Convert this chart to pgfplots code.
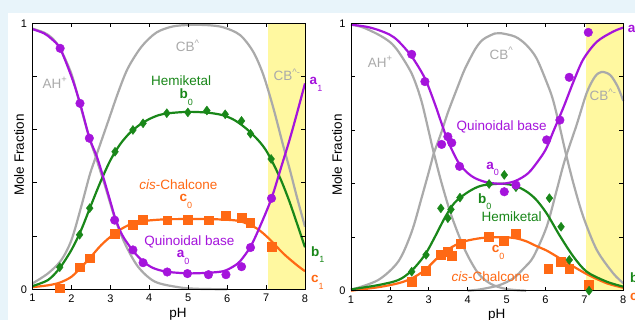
\documentclass[border=0pt]{standalone}
\usepackage{pgfplots}
\pgfplotsset{compat=1.18}
\usepackage{fontspec}
\setmainfont{Liberation Sans}
\definecolor{qpurple}{RGB}{165,20,220}
\definecolor{hgreen}{RGB}{25,135,25}
\definecolor{corange}{RGB}{255,105,20}
\definecolor{cgray}{RGB}{170,170,170}
\definecolor{hlyellow}{RGB}{255,248,160}
\definecolor{bgblue}{RGB}{232,244,250}
\newcommand{\lab}[2]{\textbf{#1}\raisebox{-0.5em}{\fontsize{9}{9}\selectfont #2}}
\newcommand{\lfont}{\fontsize{13.5}{15}\selectfont}
\pgfplotsset{
  panel/.style={scale only axis, xmin=1, xmax=8, ymin=0, ymax=1,
    xtick={1,2,3,4,5,6,7,8}, ytick={0,0.2,0.4,0.6,0.8,1}, yticklabels={0,,,,,1},
    tick align=inside, major tick length=4pt,
    axis line style={line width=0.8pt},
    every tick/.style={black, line width=0.8pt},
    tick label style={font=\fontsize{11}{13}\selectfont},
    /pgf/number format/assume math mode=true,
    yticklabel style={xshift=-2pt},
    xticklabel style={yshift=-1.5pt},
    clip=false, axis on top},
  gc/.style={cgray, line width=2.2pt, smooth, mark=none},
  pc/.style={qpurple, line width=2.2pt, smooth, mark=none},
  hc/.style={hgreen, line width=2.2pt, smooth, mark=none},
  oc/.style={corange, line width=2.2pt, smooth, mark=none},
  pm/.style={only marks, mark=*, mark size=4.3pt, qpurple},
  hm/.style={only marks, mark=diamond*, mark size=4.5pt, hgreen},
  om/.style={only marks, mark=square*, mark size=4.4pt, corange},
}
\begin{document}
\begin{tikzpicture}[x=1pt,y=1pt]
\useasboundingbox (0,0) rectangle (635,320);
\clip (0,0) rectangle (635,320);
\fill[bgblue] (0,0) rectangle (635,320);
\fill[white] (8,0) rectangle (635,307);

% ---------------- left panel ----------------
\begin{axis}[panel, at={(32.5pt,30.7pt)}, anchor=south west, width=272.5pt, height=266pt]
\fill[hlyellow] (axis cs:7.05,0) rectangle (axis cs:8,1);
% AH+
\addplot[gc] coordinates {(1,0.98)(1.3,0.965)(1.5,0.945)(1.71,0.905)(2.0,0.81)(2.21,0.70)(2.47,0.565)(2.62,0.50)(2.85,0.395)(3.11,0.27)(3.37,0.173)(3.71,0.085)(4.14,0.029)(4.74,0.008)(5.2,0.002)(6.0,0.0)};
% CB^
\addplot[gc] coordinates {(1,0.022)(1.4,0.06)(1.74,0.11)(2.0,0.185)(2.25,0.31)(2.47,0.43)(2.62,0.495)(2.94,0.63)(3.2,0.74)(3.45,0.831)(3.8,0.912)(4.18,0.965)(4.6,0.988)(5.05,0.994)(5.5,0.993)(5.9,0.985)(6.33,0.956)(6.67,0.893)(6.93,0.806)(7.19,0.68)(7.44,0.54)(7.61,0.45)(7.79,0.348)(8.0,0.235)};
% orange c
\addplot[oc] coordinates {(1,0.008)(1.4,0.015)(1.7,0.025)(2.0,0.047)(2.25,0.083)(2.47,0.117)(2.77,0.167)(3.11,0.21)(3.45,0.24)(3.84,0.256)(4.4,0.263)(5.0,0.264)(5.5,0.264)(5.9,0.262)(6.33,0.256)(6.76,0.229)(7.1,0.187)(7.44,0.135)(7.79,0.091)(8.0,0.068)};
% green b
\addplot[hc] coordinates {(1,0.012)(1.4,0.035)(1.7,0.08)(2.0,0.148)(2.25,0.223)(2.5,0.315)(2.75,0.405)(3.0,0.485)(3.25,0.545)(3.5,0.588)(3.75,0.618)(4.0,0.64)(4.25,0.655)(4.5,0.662)(5.0,0.667)(5.5,0.664)(5.9,0.654)(6.2,0.635)(6.5,0.603)(6.8,0.56)(7.0,0.522)(7.2,0.468)(7.4,0.405)(7.6,0.33)(7.8,0.245)(8.0,0.158)};
% purple a
\addplot[pc] coordinates {(1,0.978)(1.3,0.962)(1.5,0.94)(1.71,0.905)(2.0,0.80)(2.22,0.70)(2.46,0.57)(2.65,0.50)(2.8,0.43)(3.0,0.33)(3.12,0.27)(3.3,0.205)(3.58,0.145)(3.84,0.105)(4.1,0.08)(4.45,0.066)(5.0,0.06)(5.5,0.062)(5.9,0.068)(6.15,0.085)(6.33,0.105)(6.6,0.16)(6.84,0.235)(7.14,0.342)(7.4,0.465)(7.6,0.56)(7.8,0.665)(8.0,0.774)};
\addplot[om] coordinates {(1.7,0.004)(2.21,0.083)(2.47,0.117)(3.11,0.21)(3.58,0.242)(3.84,0.263)(4.46,0.26)(4.98,0.263)(5.52,0.26)(5.97,0.276)(6.37,0.269)(6.59,0.25)(7.14,0.16)};
\addplot[hm] coordinates {(1.7,0.083)(2.21,0.205)(2.47,0.305)(3.12,0.517)(3.58,0.599)(3.84,0.624)(4.45,0.662)(4.99,0.665)(5.48,0.672)(5.95,0.658)(6.37,0.633)(6.6,0.585)(7.13,0.49)};
\addplot[pm] coordinates {(1.71,0.906)(2.22,0.699)(2.46,0.568)(3.11,0.26)(3.58,0.148)(3.84,0.10)(4.46,0.065)(4.98,0.059)(5.52,0.055)(5.97,0.055)(6.37,0.085)(6.6,0.157)(7.14,0.342)};
% labels
\node[cgray, font=\lfont] at (axis cs:1.58,0.776) {AH\textsuperscript{+}};
\node[cgray, font=\lfont] at (axis cs:4.99,0.915) {CB\textsuperscript{\textasciicircum}};
\node[cgray, font=\lfont] at (axis cs:7.54,0.805) {CB\textsuperscript{\textasciicircum-}};
\node[qpurple, font=\lfont, anchor=west, inner sep=0pt] at (axis cs:8.115,0.77) {\lab{a}{1}};
\node[hgreen, font=\lfont] at (axis cs:4.82,0.784) {Hemiketal};
\node[hgreen, font=\lfont] at (axis cs:4.95,0.721) {\lab{b}{0}};
\node[corange, font=\lfont] at (axis cs:4.745,0.393) {\textit{cis}-Chalcone};
\node[corange, font=\lfont] at (axis cs:4.94,0.329) {\lab{c}{0}};
\node[qpurple, font=\lfont] at (axis cs:5.03,0.18) {Quinoidal base};
\node[qpurple, font=\lfont] at (axis cs:4.87,0.121) {\lab{a}{0}};
\node[hgreen, font=\lfont, anchor=west, inner sep=0pt] at (axis cs:8.15,0.13) {\lab{b}{1}};
\node[corange, font=\lfont, anchor=west, inner sep=0pt] at (axis cs:8.15,0.025) {\lab{c}{1}};
\end{axis}

% ---------------- right panel ----------------
\begin{axis}[panel, at={(351pt,29.3pt)}, anchor=south west, width=272.3pt, height=267.4pt]
\fill[hlyellow] (axis cs:7.05,0) rectangle (axis cs:8,1);
% AH+
\addplot[gc] coordinates {(1,0.995)(1.3,0.985)(1.7,0.958)(2.0,0.93)(2.22,0.894)(2.56,0.812)(2.8,0.715)(3.0,0.595)(3.12,0.52)(3.33,0.402)(3.59,0.277)(3.93,0.152)(4.27,0.065)(4.6,0.025)(5.0,0.006)(5.5,0.0)};
% CB^
\addplot[gc] coordinates {(1,0.003)(1.7,0.04)(2.22,0.11)(2.56,0.22)(2.82,0.35)(3.03,0.46)(3.12,0.51)(3.22,0.55)(3.33,0.595)(3.5,0.67)(3.75,0.765)(3.93,0.83)(4.2,0.905)(4.4,0.94)(4.7,0.962)(4.85,0.963)(5.22,0.95)(5.5,0.92)(5.77,0.869)(6.07,0.765)(6.2,0.71)(6.37,0.61)(6.52,0.515)(6.72,0.40)(6.97,0.277)(7.32,0.152)(7.74,0.065)(8.0,0.028)};
% CB^-
\addplot[gc] coordinates {(4.0,0.0)(4.32,0.005)(4.8,0.02)(5.17,0.046)(5.45,0.085)(5.69,0.127)(6.03,0.239)(6.29,0.377)(6.5,0.49)(6.8,0.62)(7.06,0.74)(7.27,0.80)(7.44,0.818)(7.66,0.807)(7.85,0.765)(8.0,0.71)};
% orange c
\addplot[oc] coordinates {(1,0.0)(1.7,0.013)(2.22,0.028)(2.56,0.046)(2.9,0.077)(3.24,0.125)(3.59,0.163)(3.93,0.185)(4.36,0.197)(4.8,0.2)(5.2,0.197)(5.5,0.185)(5.75,0.168)(6.03,0.15)(6.3,0.127)(6.55,0.105)(7.06,0.062)(7.57,0.028)(8.0,0.011)};
% green b
\addplot[hc] coordinates {(1,0.005)(1.7,0.021)(2.22,0.04)(2.56,0.075)(2.9,0.134)(3.16,0.202)(3.42,0.275)(3.67,0.33)(4.02,0.37)(4.36,0.393)(4.88,0.40)(5.22,0.392)(5.5,0.372)(5.75,0.342)(6.03,0.289)(6.37,0.205)(6.72,0.127)(7.06,0.071)(7.57,0.034)(8.0,0.015)};
% purple a
\addplot[pc] coordinates {(1,0.995)(1.4,0.987)(1.7,0.975)(2.0,0.957)(2.22,0.933)(2.56,0.876)(2.9,0.794)(3.16,0.697)(3.33,0.625)(3.5,0.557)(3.76,0.48)(4.0,0.44)(4.2,0.42)(4.5,0.405)(4.88,0.40)(5.22,0.41)(5.56,0.44)(5.86,0.495)(6.03,0.535)(6.2,0.595)(6.46,0.685)(6.72,0.782)(6.97,0.865)(7.32,0.931)(7.74,0.969)(8.0,0.984)};
\addplot[om] coordinates {(2.56,0.034)(2.92,0.075)(3.31,0.134)(3.49,0.146)(3.59,0.13)(3.82,0.177)(4.55,0.202)(4.93,0.187)(5.24,0.212)(6.07,0.082)(6.4,0.108)(6.61,0.081)(7.12,0.021)};
\addplot[hm] coordinates {(2.56,0.071)(2.93,0.134)(3.31,0.308)(3.49,0.271)(3.57,0.304)(3.8,0.348)(4.55,0.399)(4.94,0.433)(5.24,0.387)(6.1,0.346)(6.4,0.239)(6.61,0.115)(7.12,0.0)};
\addplot[pm] coordinates {(2.56,0.884)(2.9,0.782)(3.33,0.547)(3.49,0.576)(3.59,0.553)(3.79,0.465)(4.94,0.37)(5.24,0.395)(6.03,0.564)(6.37,0.638)(6.61,0.798)(7.1,0.966)};
% labels
\node[cgray, font=\lfont] at (axis cs:1.75,0.856) {AH\textsuperscript{+}};
\node[cgray, font=\lfont] at (axis cs:4.87,0.888) {CB\textsuperscript{\textasciicircum}};
\node[cgray, font=\lfont] at (axis cs:7.48,0.732) {CB\textsuperscript{\textasciicircum-}};
\node[qpurple, font=\lfont] at (axis cs:4.87,0.613) {Quinoidal base};
\node[qpurple, font=\lfont] at (axis cs:4.64,0.455) {\lab{a}{0}};
\node[hgreen, font=\lfont] at (axis cs:4.44,0.333) {\lab{b}{0}};
\node[hgreen, font=\lfont] at (axis cs:5.13,0.277) {Hemiketal};
\node[corange, font=\lfont] at (axis cs:4.78,0.143) {\lab{c}{0}};
\node[corange, font=\lfont] at (axis cs:4.59,0.052) {\textit{cis}-Chalcone};
\node[qpurple, font=\lfont, anchor=west, inner sep=0pt] at (axis cs:8.11,0.965) {\lab{a}{1}};
\node[hgreen, font=\lfont, anchor=west, inner sep=0pt] at (axis cs:8.17,0.035) {\lab{b}{1}};
\node[corange, font=\lfont, anchor=west, inner sep=0pt] at (axis cs:8.17,-0.035) {\lab{c}{1}};
\end{axis}

% axis titles
\node[font=\fontsize{13.5}{15}\selectfont] at (178pt,6pt) {pH};
\node[font=\fontsize{13.5}{15}\selectfont] at (496.7pt,5pt) {pH};
\node[rotate=90, font=\fontsize{13.5}{15}\selectfont] at (19pt,165pt) {Mole Fraction};
\node[rotate=90, font=\fontsize{13.5}{15}\selectfont] at (337pt,165pt) {Mole Fraction};
\end{tikzpicture}
\end{document}
